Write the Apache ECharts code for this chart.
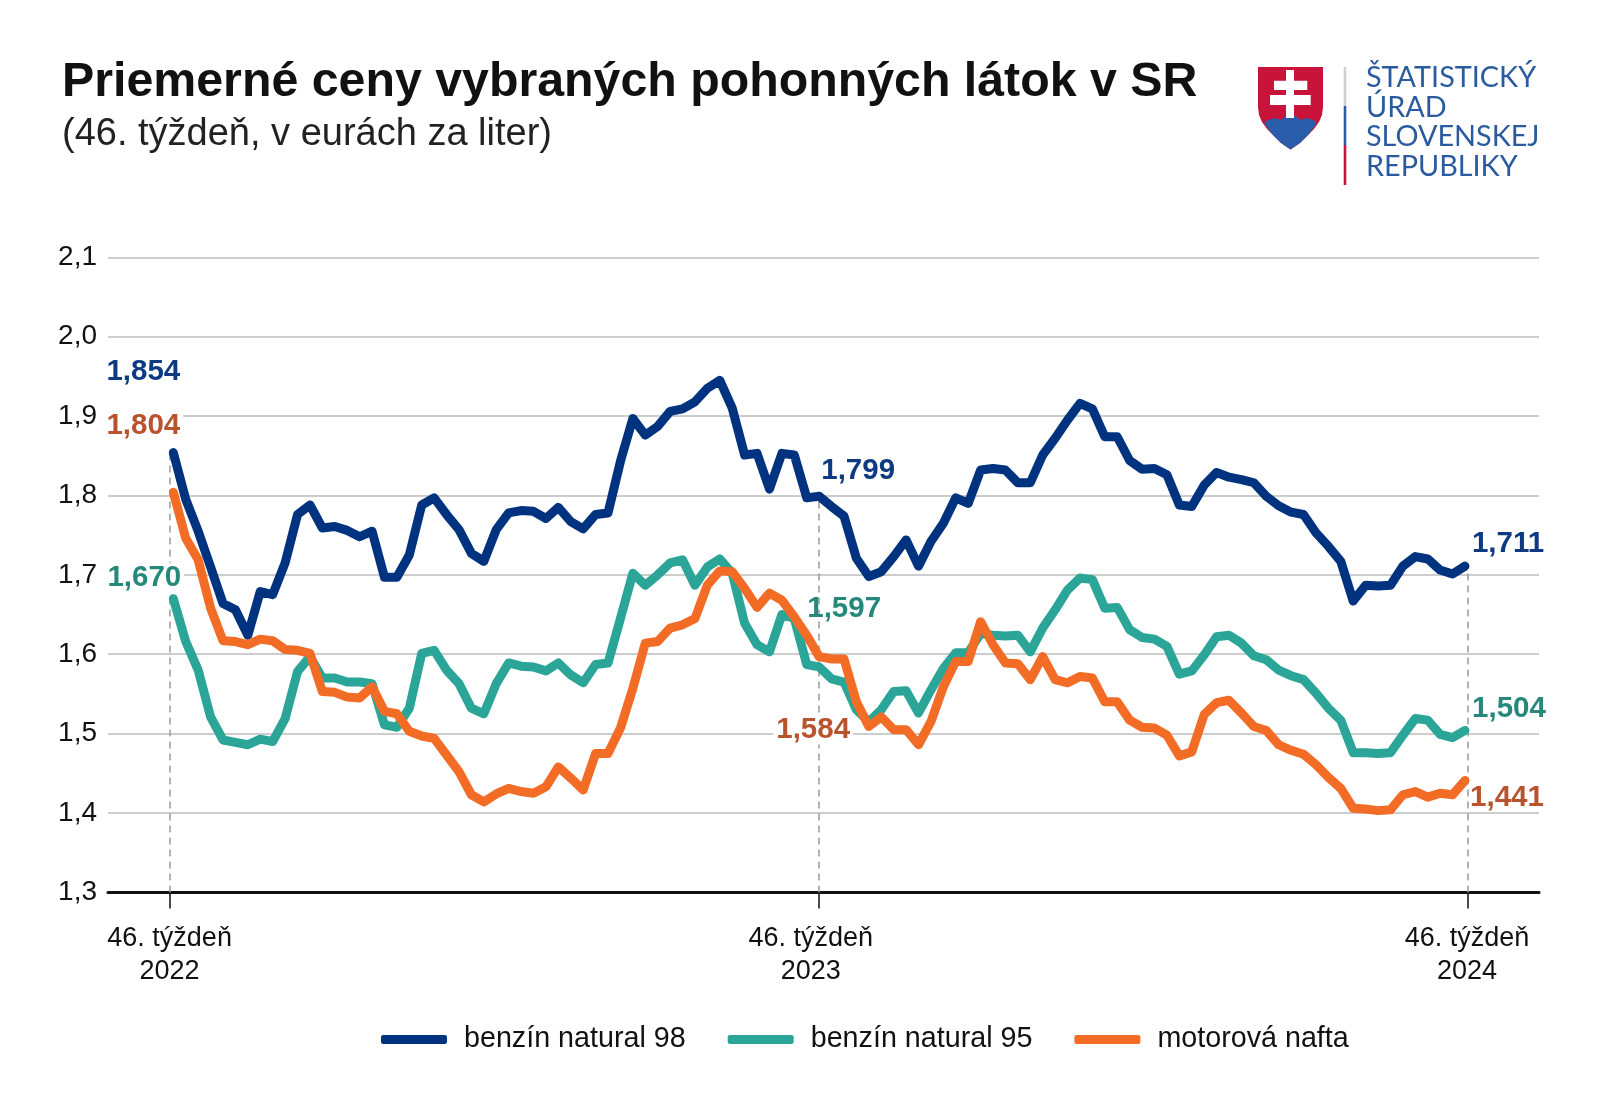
<!DOCTYPE html>
<html lang="sk">
<head>
<meta charset="utf-8">
<title>Priemerné ceny vybraných pohonných látok v SR</title>
<style>html,body{margin:0;padding:0;background:#fff}#chart{width:1600px;height:1116px}</style>
<script src="https://cdn.jsdelivr.net/npm/echarts@6/dist/echarts.min.js"></script>
</head>
<body>
<div id="chart"></div>
<script>
const seriesNames = ['benzín natural 98', 'benzín natural 95', 'motorová nafta'];
const natural98 = [1.854,1.795,1.755,1.710,1.664,1.656,1.624,1.679,1.675,1.715,1.776,1.788,1.759,1.761,1.756,1.748,1.755,1.697,1.697,1.725,1.788,1.797,1.776,1.757,1.727,1.717,1.757,1.778,1.781,1.780,
1.771,1.785,1.767,1.758,1.776,1.778,1.843,1.897,1.876,1.887,1.906,1.909,1.918,1.935,1.945,1.910,1.851,1.853,1.808,1.853,1.851,1.797,1.799,1.786,1.774,1.721,1.698,1.704,1.723,1.744,1.711,1.742,1.765,1.797,1.790,1.832,1.834,1.832,
1.816,1.816,1.851,1.872,1.895,1.916,1.909,1.874,1.874,1.844,1.833,1.834,1.826,1.788,1.786,1.813,1.829,1.823,1.820,1.816,1.799,1.787,1.779,1.776,1.753,1.736,1.717,1.667,1.687,1.686,1.687,1.711,1.723,1.720,1.706,1.701,1.711];
const natural95 = [1.670,1.616,1.580,1.521,1.492,1.489,1.486,1.493,1.490,1.519,1.578,1.597,1.570,1.570,1.565,1.565,1.563,1.511,1.508,1.532,1.601,1.605,1.580,1.563,1.532,1.525,1.563,1.589,1.585,1.584,
1.579,1.589,1.574,1.564,1.587,1.589,1.645,1.702,1.687,1.700,1.715,1.719,1.687,1.710,1.720,1.702,1.639,1.612,1.603,1.650,1.645,1.587,1.584,1.569,1.565,1.530,1.515,1.530,1.553,1.554,1.526,1.555,1.582,1.602,1.602,1.626,1.624,1.623,
1.624,1.603,1.633,1.656,1.681,1.696,1.694,1.658,1.659,1.631,1.621,1.619,1.610,1.575,1.579,1.599,1.622,1.624,1.614,1.598,1.593,1.580,1.573,1.568,1.551,1.532,1.517,1.476,1.476,1.475,1.476,1.498,1.519,1.517,1.499,1.495,1.504];
const nafta = [1.804,1.746,1.719,1.658,1.617,1.616,1.612,1.619,1.617,1.606,1.605,1.601,1.553,1.552,1.546,1.545,1.559,1.528,1.525,1.503,1.497,1.494,1.473,1.452,1.423,1.414,1.424,1.431,1.427,1.425,
1.433,1.458,1.444,1.429,1.475,1.475,1.507,1.557,1.614,1.616,1.633,1.637,1.645,1.687,1.705,1.704,1.683,1.659,1.677,1.668,1.647,1.624,1.597,1.594,1.594,1.540,1.509,1.521,1.505,1.505,1.486,1.515,1.559,1.591,1.591,1.641,1.612,1.589,
1.588,1.568,1.597,1.568,1.564,1.572,1.570,1.540,1.540,1.517,1.508,1.507,1.498,1.472,1.477,1.524,1.539,1.542,1.526,1.509,1.504,1.486,1.479,1.474,1.461,1.445,1.431,1.406,1.405,1.403,1.404,1.423,1.427,1.420,1.425,1.423,1.441];
const tickWeeks = [-0.25, 51.95, 104.25];
const labelWeeks = [-0.3, 51.33, 104.17];
const weekLabels = ['46. týždeň\n2022', '46. týždeň\n2023', '46. týždeň\n2024'];
const guideTops = [1.854, 1.799, 1.711];
const labels98 = [[0, 1.854, '1,854', -30, -81], [52, 1.799, '1,799', 39, -25], [104, 1.711, '1,711', 43, -22]];
const labels95 = [[0, 1.670, '1,670', -29, -21], [52, 1.584, '1,597', 25, -58], [104, 1.504, '1,504', 44, -22]];
const labelsNafta = [[0, 1.804, '1,804', -30, -66], [52, 1.597, '1,584', -6, 73], [104, 1.441, '1,441', 42, 17]];
const lineColors = ['#00337f', '#2ba598', '#f26c26'];
const textColors = ['#0d3a80', '#25887a', '#b8532e'];
const FONT = '"Liberation Sans", Arial, sans-serif';

function points(arr) { return arr.map((v, i) => [i, v]); }
function marks(list, color, masked) {
  return {
    symbol: 'circle', symbolSize: 0, silent: true, z: 6,
    data: list.map(l => ({
      coord: [l[0], l[1]],
      label: {
        show: true, position: 'inside', formatter: l[2], offset: [l[3], l[4]],
        color, fontFamily: FONT, fontWeight: 'bold', fontSize: 29.5,
        backgroundColor: masked(l[0]) ? '#fff' : 'transparent', padding: [0, 3]
      }
    }))
  };
}
function lineSeries(name, arr, color, extra) {
  return Object.assign({
    name, type: 'line', data: points(arr), showSymbol: false, symbol: 'none', z: 2,
    lineStyle: { color, width: 9, cap: 'round', join: 'round' },
    itemStyle: { color }, animation: false, silent: true
  }, extra);
}

const chart = echarts.init(document.getElementById('chart'), null, { renderer: 'canvas' });
const logoText = ['ŠTATISTICKÝ', 'ÚRAD', 'SLOVENSKEJ', 'REPUBLIKY'];
const logoY = [78, 108, 137, 167];
const shieldOutline = [[1258,67],[1323,67],[1323,107],[1322,115],[1319,122],[1314,129],[1308,135],[1300,143],[1290.5,149.5],[1281,143],[1273,135],[1267,129],[1262,122],[1259,115],[1258,107]];
const shieldHills = [[1264,123],[1268,120],[1273,118.5],[1277,118.5],[1281,120],[1284,117],[1288,115.5],[1293,115.5],[1297,117],[1300,120],[1304,118.5],[1308,118.5],[1313,120],[1317,123],[1309,134],[1300,143],[1290.5,149.5],[1281,143],[1272,134]];
chart.setOption({
  animation: false,
  backgroundColor: '#fff',
  title: [
    { text: 'Priemerné ceny vybraných pohonných látok v SR', left: 62, top: 59, padding: 0,
      textStyle: { fontFamily: FONT, fontWeight: 'bold', fontSize: 48.3, color: '#111' } },
    { text: '(46. týždeň, v eurách za liter)', left: 62, top: 116, padding: 0,
      textStyle: { fontFamily: FONT, fontWeight: 'normal', fontSize: 38, color: '#222' } }
  ],
  grid: { left: 108, right: 61, top: 257.3, height: 635.1, containLabel: false },
  xAxis: {
    type: 'value', min: -5.26, max: 109.96, splitLine: { show: false },
    axisLine: { onZero: false, lineStyle: { color: '#111', width: 3 } },
    axisTick: { show: true, customValues: tickWeeks, length: 16, lineStyle: { color: '#111', width: 1.5 } },
    axisLabel: {
      customValues: labelWeeks, margin: 29.5, fontFamily: FONT, fontSize: 27, color: '#111', lineHeight: 33,
      formatter: v => weekLabels[labelWeeks.indexOf(v)] || ''
    }
  },
  yAxis: {
    type: 'value', min: 1.3, max: 2.1, interval: 0.1,
    axisLine: { show: false }, axisTick: { show: false },
    splitLine: { lineStyle: { color: '#bdbdbd', width: 1.5 } },
    axisLabel: { margin: 11, fontFamily: FONT, fontSize: 28, color: '#111', padding: [0, 0, 8, 0],
      formatter: v => v.toFixed(1).replace('.', ',') }
  },
  legend: {
    left: 376, top: 1020, itemWidth: 66, itemHeight: 9, itemGap: 42, icon: 'roundRect',
    data: seriesNames, selectedMode: false,
    textStyle: { fontFamily: FONT, fontSize: 28.7, color: '#111', padding: [0, 0, 0, 12] }
  },
  series: [
    lineSeries(seriesNames[0], natural98, lineColors[0], {
      markLine: {
        silent: true, symbol: 'none', z: 1, label: { show: false }, animation: false,
        lineStyle: { color: '#9a9a9a', type: [7, 5], width: 1.5 },
        data: tickWeeks.map((w, i) => [{ coord: [w, 1.3] }, { coord: [w, guideTops[i]] }])
      },
      markPoint: marks(labels98, textColors[0], () => false)
    }),
    lineSeries(seriesNames[1], natural95, lineColors[1], {
      markPoint: marks(labels95, textColors[1], x => x === 0)
    }),
    lineSeries(seriesNames[2], nafta, lineColors[2], {
      markPoint: marks(labelsNafta, textColors[2], x => x === 0 || x === 52)
    })
  ],
  graphic: [
    { type: 'polygon', shape: { points: shieldOutline }, style: { fill: '#c8133a' } },
    { type: 'polygon', shape: { points: shieldHills }, style: { fill: '#2a5caa' } },
    { type: 'rect', shape: { x: 1286, y: 70, width: 8, height: 48 }, style: { fill: '#fff' } },
    { type: 'rect', shape: { x: 1274, y: 80.7, width: 33.3, height: 9.3 }, style: { fill: '#fff' } },
    { type: 'rect', shape: { x: 1270, y: 95, width: 40.7, height: 10 }, style: { fill: '#fff' } },
    { type: 'rect', shape: { x: 1343.7, y: 67, width: 2.6, height: 39 }, style: { fill: '#d0d0d0' } },
    { type: 'rect', shape: { x: 1343.7, y: 106, width: 2.6, height: 39 }, style: { fill: '#2a5ca8' } },
    { type: 'rect', shape: { x: 1343.7, y: 145, width: 2.6, height: 40 }, style: { fill: '#c8133a' } }
  ].concat(logoText.map((t, i) => ({
    type: 'text', style: { x: 1366, y: logoY[i], text: t, fill: '#2b5b9f', verticalAlign: 'middle', font: '28.8px Lato, "Open Sans", sans-serif' }
  })))
});
</script>
</body>
</html>
